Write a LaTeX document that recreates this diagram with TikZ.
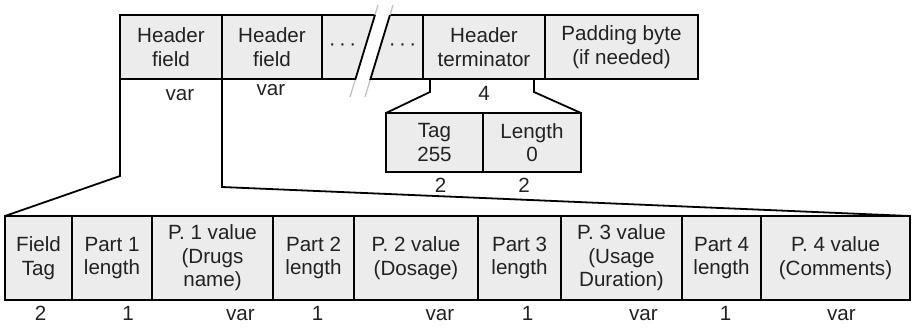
\documentclass[tikz,border=0pt]{standalone}
\usepackage{fontspec}
\setmainfont{Liberation Sans}
\usepackage{tikz}
\usetikzlibrary{positioning,calc}
\definecolor{cellfill}{HTML}{EBECEB}
\definecolor{inkgray}{HTML}{222222}

\begin{document}
\begin{tikzpicture}[
  x=1pt, y=1pt,
  every node/.style={font=\fontsize{10.3}{11.7}\selectfont, text=inkgray},
  cell/.style={rectangle, draw=black, fill=cellfill, line width=0.9pt,
    outer sep=0pt, inner sep=1pt, align=center},
  hdrcell/.style={cell, minimum height=32pt},
  tagcell/.style={cell, minimum height=29.5pt},
  partcell/.style={cell, minimum height=42pt},
  sizelbl/.style={anchor=base, inner sep=0pt},
  link/.style={line width=0.9pt, black},
]
\useasboundingbox (0,0) rectangle (456,-164);

% Header row
\node[hdrcell, minimum width=51pt, anchor=north west] (hf1) at (60,-7.5) {Header\\field};
\node[hdrcell, minimum width=50pt, right=0pt of hf1] (hf2) {Header\\field};
\node[hdrcell, minimum width=50.5pt, right=0pt of hf2] (dots) {};
\node[hdrcell, minimum width=61pt, right=0pt of dots] (term) {Header\\terminator};
\node[hdrcell, minimum width=76.5pt, right=0pt of term] (pad) {Padding byte\\(if needed)};

% Break in the header row
\coordinate (brktop) at ([shift={(6.5,21)}]dots.center);
\coordinate (brkbot) at ([shift={(-7.5,-25)}]dots.center);
\fill[white] ($(brktop)+(-3.75,0)$) -- ($(brktop)+(3.75,0)$)
  -- ($(brkbot)+(3.75,0)$) -- ($(brkbot)+(-3.75,0)$) -- cycle;
\draw[gray!50, line width=0.6pt] ($(brktop)+(-3.75,0)$) -- ($(brkbot)+(-3.75,0)$)
  ($(brktop)+(3.75,0)$) -- ($(brkbot)+(3.75,0)$);
\begin{scope}
  \clip (dots.south west) rectangle (dots.north east);
  \draw[link] ($(brktop)+(-3.75,0)$) -- ($(brkbot)+(-3.75,0)$)
    ($(brktop)+(3.75,0)$) -- ($(brkbot)+(3.75,0)$);
\end{scope}
\node (ldots) at ([xshift=-15pt]dots.center) {·\,·\,·};
\node (rdots) at ([xshift=15pt]dots.center) {·\,·\,·};

% Terminator detail
\node[tagcell, minimum width=48.5pt, below=17pt of term.south west, anchor=north west,
  xshift=-18.5pt] (tag) {Tag\\255};
\node[tagcell, minimum width=49pt, right=0pt of tag] (len) {Length\\0};

% Field detail
\node[partcell, minimum width=33.5pt, anchor=north west] (ftag) at (2.5,-108) {Field\\Tag};
\node[partcell, minimum width=40pt, right=0pt of ftag] (l1) {Part 1\\length};
\node[partcell, minimum width=60.5pt, right=0pt of l1] (v1) {P. 1 value\\(Drugs\\name)};
\node[partcell, minimum width=40.5pt, right=0pt of v1] (l2) {Part 2\\length};
\node[partcell, minimum width=62pt, right=0pt of l2] (v2) {P. 2 value\\(Dosage)};
\node[partcell, minimum width=41.5pt, right=0pt of v2] (l3) {Part 3\\length};
\node[partcell, minimum width=60.5pt, right=0pt of l3] (v3) {P. 3 value\\(Usage\\Duration)};
\node[partcell, minimum width=39.5pt, right=0pt of v3] (l4) {Part 4\\length};
\node[partcell, minimum width=74.5pt, right=0pt of l4] (v4) {P. 4 value\\(Comments)};

% Zoom lines
\draw[link] (hf1.south west) -- ++(0,-48.5) -- (ftag.north west);
\draw[link] (hf1.south east) -- ++(0,-54) -- (v4.north east);
\draw[link] ([xshift=3.5pt]term.south west) -- ++(0,-6.5) -- (tag.north west);
\draw[link] ([xshift=-5.5pt]term.south east) -- ++(0,-6.5) -- (len.north east);

% Sizes
\node[sizelbl] (szhf1) at ([shift={(4.5,-10.5)}]hf1.south) {var};
\node[sizelbl] (szhf2) at ([shift={(-0.5,-8)}]hf2.south) {var};
\node[sizelbl] (szterm) at ([shift={(0,-10.5)}]term.south) {4};
\node[sizelbl] (sztag) at ([shift={(3,-10)}]tag.south) {2};
\node[sizelbl] (szlen) at ([shift={(-4,-10)}]len.south) {2};
\node[sizelbl] (szftag) at ([shift={(1,-10)}]ftag.south) {2};
\node[sizelbl] (szl1) at ([shift={(8,-10)}]l1.south) {1};
\node[sizelbl] (szv1) at ([shift={(14,-10)}]v1.south) {var};
\node[sizelbl] (szl2) at ([shift={(2,-10)}]l2.south) {1};
\node[sizelbl] (szv2) at ([shift={(12,-10)}]v2.south) {var};
\node[sizelbl] (szl3) at ([shift={(4,-10)}]l3.south) {1};
\node[sizelbl] (szv3) at ([shift={(11,-10)}]v3.south) {var};
\node[sizelbl] (szl4) at ([shift={(2,-10)}]l4.south) {1};
\node[sizelbl] (szv4) at ([shift={(3,-10)}]v4.south) {var};
\end{tikzpicture}
\end{document}
